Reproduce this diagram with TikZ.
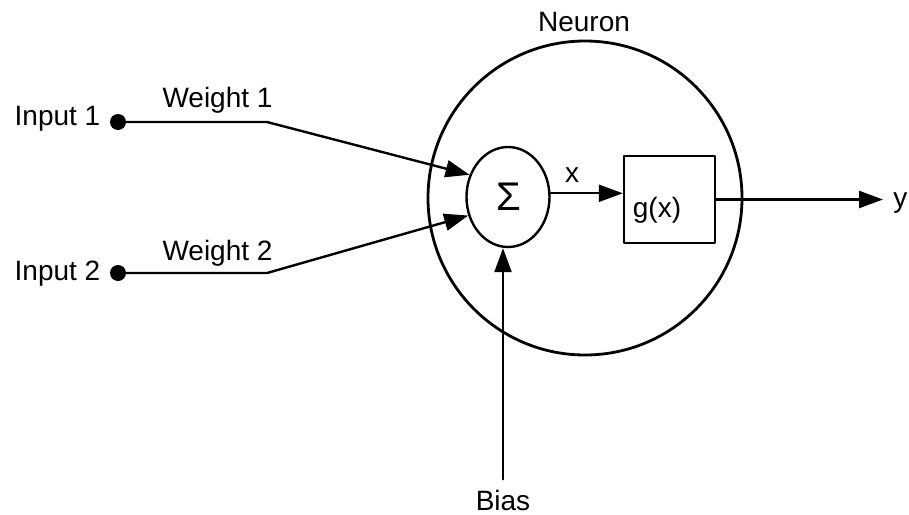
\documentclass[tikz,border=0pt]{standalone}
\usepackage{fontspec}
\setmainfont{Liberation Sans}
\usetikzlibrary{arrows.meta,shapes.geometric}

\begin{document}
\begin{tikzpicture}[x=0.5pt, y=-0.5pt, line join=round,
  wire/.style={line width=1.2pt, line cap=round},
  feed/.style={wire, -{Triangle[length=12pt,width=8.5pt]}},
  lbl/.style={inner sep=0pt, anchor=base, font=\fontsize{14}{16}\selectfont},
  dot/.style={circle, fill, inner sep=0pt, minimum size=8pt}]
\providecommand{\neuronLineWidth}{1.4pt}
\useasboundingbox (0,0) rectangle (909,514);
  % Neuron body
  \node[circle, draw, line width=\neuronLineWidth, inner sep=0pt, minimum size=157pt] (neuron) at (585,198) {};
  \node[lbl] (neuronlbl) at (584,32) {Neuron};
  % Summation and activation
  \node[ellipse, draw, line width=1.2pt, inner sep=0pt, minimum width=41.5pt, minimum height=50pt] (sum) at (508,197) {};
  \node[lbl, font=\fontsize{20}{22}\selectfont] (sigma) at (509,210) {Σ};
  \node[rectangle, draw, line width=1.2pt, inner sep=0pt, minimum width=45.5pt, minimum height=43.5pt] (act) at (669.5,199.5) {};
  \node[lbl] (gx) at (657,217) {g(x)};
  % Inputs
  \node[dot] (in1) at (118,122) {};
  \node[dot] (in2) at (118,273) {};
  \node[lbl] (in1lbl) at (57.5,125) {Input 1};
  \node[lbl] (in2lbl) at (57.5,280) {Input 2};
  \coordinate (bend1) at (267,122);
  \coordinate (bend2) at (267,273);
  \node[lbl] (w1lbl) at (217.5,107) {Weight 1};
  \node[lbl] (w2lbl) at (217.5,260) {Weight 2};
  % Bias and output
  \node[lbl] (bias) at (503,510) {Bias};
  \node[lbl] (xlbl) at (572,182) {x};
  \node[lbl, anchor=base west] (ylbl) at (893,207) {y};
  \coordinate (yout) at (883,199.5);
  % Connectors
  \draw[feed] (in1) -- (bend1) -- (sum.150);
  \draw[feed] (in2) -- (bend2) -- (sum.205);
  \draw[feed, shorten <=5pt] (bias.north) -- (bias.north |- sum.south);
  \draw[feed] (sum.5) -- (sum.5 -| act.west);
  \draw[feed] (act.east) -- (yout);
\end{tikzpicture}
\end{document}
